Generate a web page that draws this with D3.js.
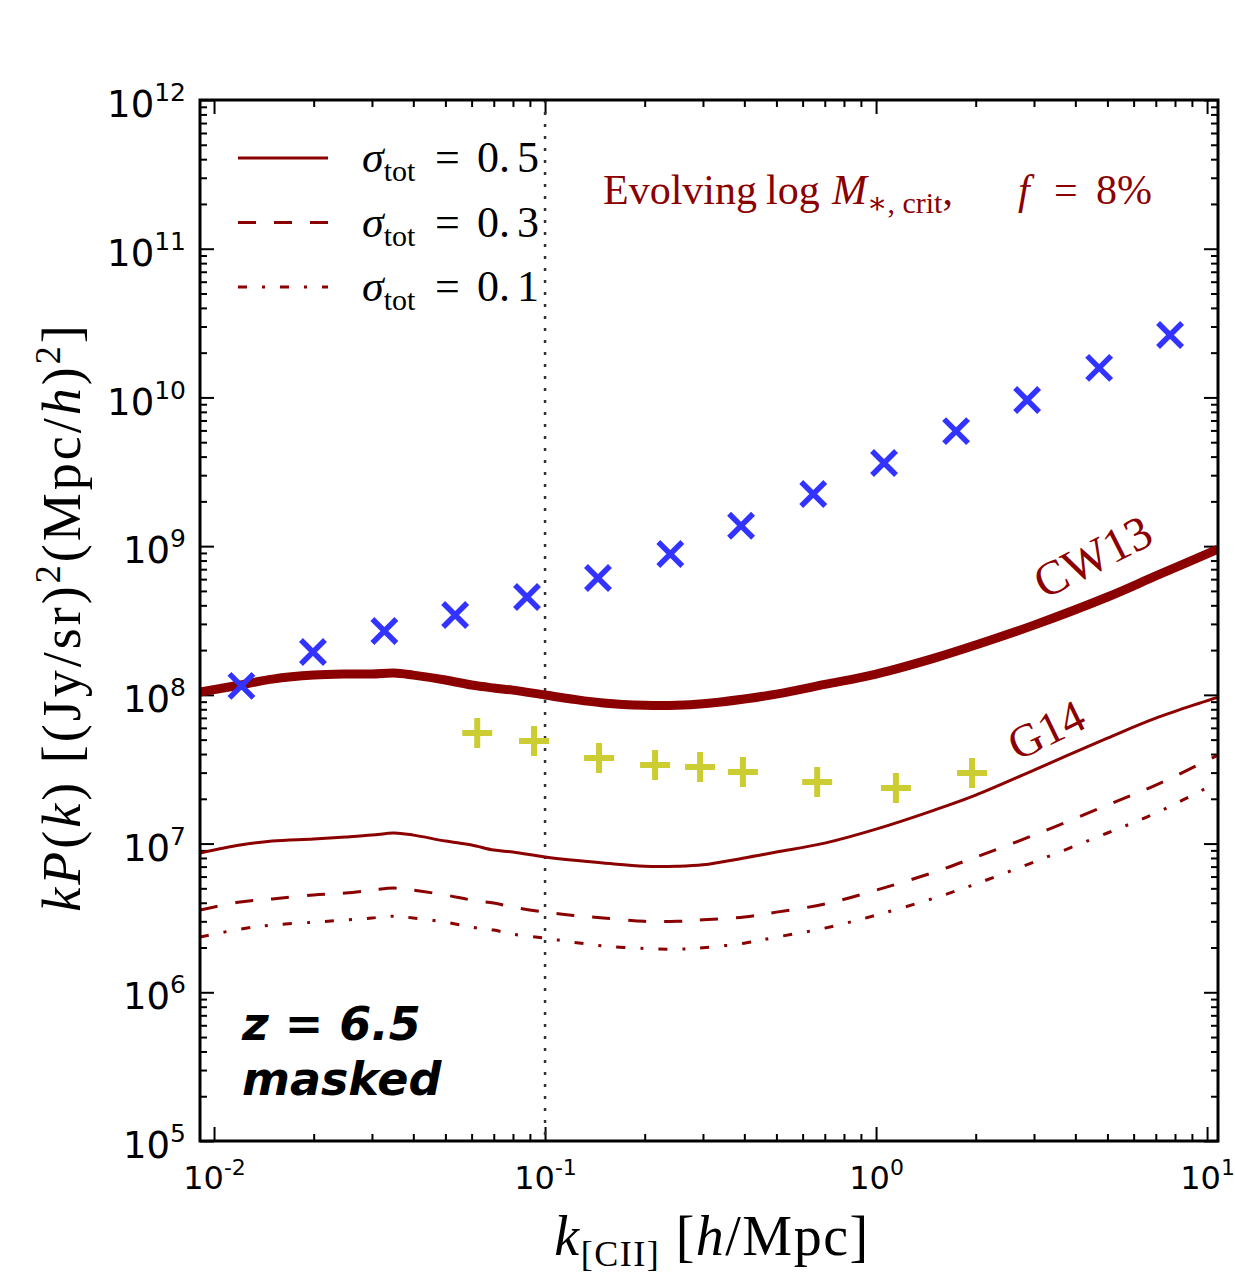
<!DOCTYPE html>
<html>
<head>
<meta charset="utf-8">
<script src="https://cdn.jsdelivr.net/npm/d3@7"></script>
<style>
  body { margin: 0; background: #fff; }
  .serif { font-family: "Liberation Serif", "DejaVu Serif", serif; }
  .tick text { font-family: "DejaVu Sans", sans-serif; fill: #000; }
</style>
</head>
<body>
<svg id="canvas" width="1235" height="1273"></svg>
<script>
// Configuration
const width = 1235;
const height = 1273;
const plot = { left: 200, right: 1218, top: 100, bottom: 1141 };
const DARK_RED = '#8b0000';

// k grid shared by the model curves [h/Mpc]
const kGrid = [0.00907, 0.012, 0.015, 0.02, 0.025, 0.03, 0.035, 0.04, 0.05, 0.06, 0.07, 0.08,
    0.1, 0.12, 0.15, 0.2, 0.25, 0.3, 0.4, 0.5, 0.7, 1, 1.5, 2, 3, 5, 7, 10.79];

// CW13 (thick)
const cw13 = [1.045e8, 1.164e8, 1.276e8, 1.358e8, 1.38e8, 1.38e8, 1.403e8, 1.358e8, 1.259e8, 1.164e8, 1.112e8, 1.076e8,
    9.98e7, 9.38e7, 8.81e7, 8.5e7, 8.5e7, 8.7e7, 9.38e7, 1.012e8, 1.175e8, 1.38e8, 1.766e8, 2.163e8, 2.944e8, 4.55e8, 6.3e8, 9.55e8];

// sigma_tot = 0.5 (solid), 0.3 (dashed), 0.1 (dash-dot)
const sigma05 = [8.63e6, 9.77e6, 1.04e7, 1.072e7, 1.107e7, 1.14e7, 1.178e7, 1.14e7, 1.04e7, 9.77e6, 9.04e6, 8.77e6,
    8.11e6, 7.74e6, 7.4e6, 7.04e6, 7.04e6, 7.2e6, 8.0e6, 8.77e6, 1.007e7, 1.25e7, 1.679e7, 2.118e7, 3.119e7, 5.12e7, 6.98e7, 9.66e7];
const sigma03 = [3.57e6, 4.05e6, 4.24e6, 4.51e6, 4.65e6, 4.86e6, 5.02e6, 4.86e6, 4.51e6, 4.17e6, 3.98e6, 3.74e6,
    3.46e6, 3.3e6, 3.16e6, 3.0e6, 3.0e6, 3.07e6, 3.21e6, 3.46e6, 3.92e6, 4.86e6, 6.43e6, 8.11e6, 1.14e7, 1.816e7, 2.472e7, 3.94e7];
const sigma01 = [2.35e6, 2.66e6, 2.83e6, 2.96e6, 3.06e6, 3.16e6, 3.25e6, 3.16e6, 2.96e6, 2.74e6, 2.62e6, 2.46e6,
    2.31e6, 2.18e6, 2.05e6, 1.97e6, 1.95e6, 1.99e6, 2.14e6, 2.35e6, 2.7e6, 3.3e6, 4.3e6, 5.35e6, 7.52e6, 1.178e7, 1.603e7, 2.594e7];

// blue crosses
const crossK = [0.0121, 0.0199, 0.0327, 0.0535, 0.0882, 0.1445, 0.239, 0.391, 0.646, 1.057, 1.745, 2.86, 4.72, 7.73];
const crossP = [1.15e8, 1.94e8, 2.69e8, 3.44e8, 4.55e8, 6.11e8, 8.85e8, 1.37e9, 2.24e9, 3.62e9, 5.94e9, 9.62e9, 1.58e10, 2.63e10];

// yellow pluses
const plusK = [0.0624, 0.0926, 0.1456, 0.215, 0.294, 0.396, 0.664, 1.148, 1.95];
const plusP = [5.53e7, 4.89e7, 3.76e7, 3.37e7, 3.27e7, 3.03e7, 2.59e7, 2.36e7, 2.98e7];

// ticks
const xMajor = [0.01, 0.1, 1, 10];
const xExp = ['-2', '-1', '0', '1'];
const yMajor = [1e5, 1e6, 1e7, 1e8, 1e9, 1e10, 1e11, 1e12];
const yExp = ['5', '6', '7', '8', '9', '10', '11', '12'];

const legendItems = [
    { label: '5', dash: null },
    { label: '3', dash: '18,18' },
    { label: '1', dash: '9,15,3,15' }
];

const svg = d3.select('#canvas');

const x = d3.scaleLog().domain([0.00907, 10.79]).range([plot.left, plot.right]);
const y = d3.scaleLog().domain([1e5, 1e12]).range([plot.bottom, plot.top]);

// minor ticks
const minorOf = (lo, hi) => {
    const out = [];
    for (let e = lo; e <= hi; e++) for (let m = 2; m <= 9; m++) {
        out.push(m * Math.pow(10, e));
    }
    return out;
};
const xMinor = minorOf(-3, 1).filter(v => v > x.domain()[0] && v < x.domain()[1]);
const yMinor = minorOf(5, 11);

const tickStyle = g => {
    g.select('.domain').remove();
    g.selectAll('.tick line').attr('stroke', '#000').attr('stroke-width', 2);
};

// bottom
svg.append('g').attr('transform', `translate(0,${plot.bottom})`)
    .call(d3.axisBottom(x).tickValues(xMinor).tickSize(-7).tickFormat(''))
    .call(tickStyle);
const xAxisG = svg.append('g').attr('transform', `translate(0,${plot.bottom})`)
    .call(d3.axisBottom(x).tickValues(xMajor).tickSize(-14).tickPadding(14).tickFormat(''))
    .call(tickStyle);
xAxisG.selectAll('.tick text').each(function(d, i) {
    const t = d3.select(this).attr('dy', '1.05em').attr('font-size', 32);
    t.append('tspan').text('10');
    t.append('tspan').attr('dy', -14).attr('font-size', 22).text(xExp[i]);
});
// top
svg.append('g').attr('transform', `translate(0,${plot.top})`)
    .call(d3.axisTop(x).tickValues(xMinor).tickSize(-7).tickFormat(''))
    .call(tickStyle);
svg.append('g').attr('transform', `translate(0,${plot.top})`)
    .call(d3.axisTop(x).tickValues(xMajor).tickSize(-14).tickFormat(''))
    .call(tickStyle);
// left
svg.append('g').attr('transform', `translate(${plot.left},0)`)
    .call(d3.axisLeft(y).tickValues(yMinor).tickSize(-7).tickFormat(''))
    .call(tickStyle);
const yAxisG = svg.append('g').attr('transform', `translate(${plot.left},0)`)
    .call(d3.axisLeft(y).tickValues(yMajor).tickSize(-14).tickPadding(14).tickFormat(''))
    .call(tickStyle);
yAxisG.selectAll('.tick text').each(function(d, i) {
    const t = d3.select(this).attr('dy', '0.45em').attr('font-size', 37);
    t.append('tspan').text('10');
    t.append('tspan').attr('dy', -16).attr('font-size', 25).text(yExp[i]);
});
// right
svg.append('g').attr('transform', `translate(${plot.right},0)`)
    .call(d3.axisRight(y).tickValues(yMinor).tickSize(-7).tickFormat(''))
    .call(tickStyle);
svg.append('g').attr('transform', `translate(${plot.right},0)`)
    .call(d3.axisRight(y).tickValues(yMajor).tickSize(-14).tickFormat(''))
    .call(tickStyle);

// clip
svg.append('clipPath').attr('id', 'clip').append('rect')
    .attr('x', plot.left).attr('y', plot.top)
    .attr('width', plot.right - plot.left).attr('height', plot.bottom - plot.top);
const area = svg.append('g').attr('clip-path', 'url(#clip)');

// vertical dotted line at k = 0.1
area.append('line')
    .attr('x1', x(0.1)).attr('x2', x(0.1))
    .attr('y1', plot.top).attr('y2', plot.bottom)
    .attr('stroke', '#333').attr('stroke-width', 2.5)
    .attr('stroke-dasharray', '3,9');

const line = d3.line()
    .x(d => x(d[0]))
    .y(d => y(d[1]))
    .curve(d3.curveCatmullRom.alpha(0.5));

const curves = [
    { values: cw13, width: 9, dash: null },
    { values: sigma05, width: 3, dash: null },
    { values: sigma03, width: 3, dash: '18,18' },
    { values: sigma01, width: 3, dash: '9,15,3,15' }
];
curves.forEach(c => {
    area.append('path')
        .datum(kGrid.map((k, i) => [k, c.values[i]]))
        .attr('d', line)
        .attr('fill', 'none')
        .attr('stroke', DARK_RED)
        .attr('stroke-width', c.width)
        .attr('stroke-dasharray', c.dash);
});

// blue crosses
const cs = 12;
area.selectAll('.cross')
    .data(crossK.map((k, i) => [k, crossP[i]]))
    .enter().append('path')
    .attr('class', 'cross')
    .attr('d', d => {
        const cx = x(d[0]), cy = y(d[1]);
        return `M${cx - cs},${cy - cs}L${cx + cs},${cy + cs}M${cx - cs},${cy + cs}L${cx + cs},${cy - cs}`;
    })
    .attr('stroke', '#3333ff').attr('stroke-width', 5.5).attr('fill', 'none');

// yellow pluses
const ps = 15;
area.selectAll('.plus')
    .data(plusK.map((k, i) => [k, plusP[i]]))
    .enter().append('path')
    .attr('class', 'plus')
    .attr('d', d => {
        const cx = x(d[0]), cy = y(d[1]);
        return `M${cx - ps},${cy}L${cx + ps},${cy}M${cx},${cy - ps}L${cx},${cy + ps}`;
    })
    .attr('stroke', '#cccc33').attr('stroke-width', 6).attr('fill', 'none');

// frame
svg.append('rect')
    .attr('x', plot.left).attr('y', plot.top)
    .attr('width', plot.right - plot.left).attr('height', plot.bottom - plot.top)
    .attr('fill', 'none').attr('stroke', '#000').attr('stroke-width', 3);

// legend
legendItems.forEach((item, i) => {
    const ly = 158 + i * 64.5;
    svg.append('line')
        .attr('x1', 238).attr('x2', 328).attr('y1', ly).attr('y2', ly)
        .attr('stroke', DARK_RED).attr('stroke-width', 3)
        .attr('stroke-dasharray', item.dash);
    const t = svg.append('text').attr('class', 'serif')
        .attr('y', ly + 14).attr('font-size', 44);
    t.append('tspan').attr('x', 362).attr('font-style', 'italic').text('σ');
    t.append('tspan').attr('font-size', 30).attr('dy', 9).text('tot');
    t.append('tspan').attr('x', 435).attr('dy', -9).text('=');
    t.append('tspan').attr('x', 477).text('0.');
    t.append('tspan').attr('x', 517).text(item.label);
});

// title annotation
const title = svg.append('text').attr('class', 'serif')
    .attr('y', 204).attr('font-size', 42).attr('fill', DARK_RED);
title.append('tspan').attr('x', 603).text('Evolving');
title.append('tspan').attr('x', 766).text('log');
title.append('tspan').attr('x', 832).attr('font-style', 'italic').text('M');
title.append('tspan').attr('font-size', 30).attr('dy', 9).text('∗, crit');
title.append('tspan').attr('dy', -9).text(',');
title.append('tspan').attr('x', 1018).attr('font-style', 'italic').text('f');
title.append('tspan').attr('x', 1054).text('=');
title.append('tspan').attr('x', 1096).text('8%');

// curve labels
svg.append('text').attr('class', 'serif')
    .attr('transform', 'translate(1100,571) rotate(-27)')
    .attr('text-anchor', 'middle').attr('font-size', 48).attr('fill', DARK_RED)
    .text('CW13');
svg.append('text').attr('class', 'serif')
    .attr('transform', 'translate(1053,744) rotate(-26)')
    .attr('text-anchor', 'middle').attr('font-size', 46).attr('fill', DARK_RED)
    .text('G14');

// redshift note
[['z = 6.5', 1040], ['masked', 1095]].forEach(([s, by]) => {
    svg.append('text')
        .attr('x', 242).attr('y', by)
        .attr('font-family', '"DejaVu Sans", sans-serif')
        .attr('font-weight', 'bold').attr('font-style', 'italic')
        .attr('font-size', 46).text(s);
});

// x label
const xl = svg.append('text').attr('class', 'serif')
    .attr('x', 712).attr('y', 1255).attr('text-anchor', 'middle')
    .attr('font-size', 56).attr('letter-spacing', 1.5);
xl.append('tspan').attr('font-style', 'italic').text('k');
xl.append('tspan').attr('font-size', 36).attr('dy', 11).text('[CII]');
xl.append('tspan').attr('dy', -11).text('  [');
xl.append('tspan').attr('font-style', 'italic').text('h');
xl.append('tspan').text('/Mpc]');

// y label
const yl = svg.append('text').attr('class', 'serif')
    .attr('transform', 'translate(80,617) rotate(-90)')
    .attr('text-anchor', 'middle').attr('font-size', 54).attr('letter-spacing', 3);
yl.append('tspan').attr('font-style', 'italic').text('kP');
yl.append('tspan').text('(');
yl.append('tspan').attr('font-style', 'italic').text('k');
yl.append('tspan').text(')  [(Jy/sr)');
yl.append('tspan').attr('font-size', 36).attr('dy', -20).text('2');
yl.append('tspan').attr('dy', 20).text('(Mpc/');
yl.append('tspan').attr('font-style', 'italic').text('h');
yl.append('tspan').text(')');
yl.append('tspan').attr('font-size', 36).attr('dy', -20).text('2');
yl.append('tspan').attr('dy', 20).text(']');
</script>
</body>
</html>
